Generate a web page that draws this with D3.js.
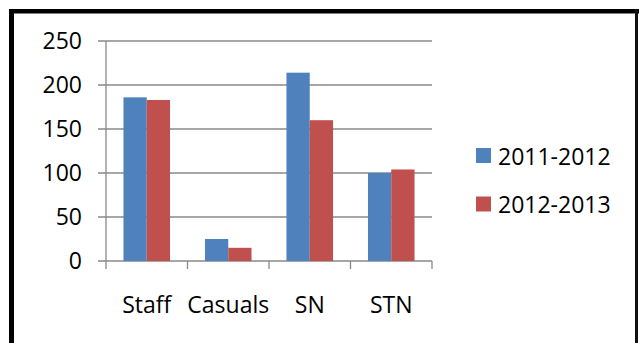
<!DOCTYPE html>
<html><head><meta charset="utf-8">
<script src="https://cdn.jsdelivr.net/npm/d3@7"></script>
<style>html,body{margin:0;padding:0;background:#fff;overflow:hidden}</style>
</head><body>
<svg id="c" width="639" height="343"></svg>
<script>
const categories = ["Staff", "Casuals", "SN", "STN"];
const seriesNames = ["2011-2012", "2012-2013"];
const values2011 = [186, 25, 214, 100];
const values2012 = [183, 15, 160, 104];
const yTicks = [0, 50, 100, 150, 200, 250];
const colors = ["#4F81BD", "#C0504D"];

const svg = d3.select("#c");
const font = "'Open Sans', sans-serif";
const fs = 23;

// frame
svg.append("rect").attr("x", 9).attr("y", 9).attr("width", 5).attr("height", 340).attr("fill", "#000");
svg.append("rect").attr("x", 9).attr("y", 9).attr("width", 630).attr("height", 4.5).attr("fill", "#000");
svg.append("rect").attr("x", 635).attr("y", 9).attr("width", 3).attr("height", 340).attr("fill", "#111");

const x0 = d3.scaleBand().domain(categories).range([106, 432]).padding(0);
const bw = x0.bandwidth();
const x1 = d3.scaleBand().domain(seriesNames).range([bw * 0.75 / 3.5, bw * 2.75 / 3.5]).padding(0);
const y = d3.scaleLinear().domain([0, 250]).range([261, 41]);

const grid = "#898989";
// gridlines
svg.append("g").selectAll("line").data(yTicks).join("line")
  .attr("x1", 98).attr("x2", 432)
  .attr("y1", d => y(d)).attr("y2", d => y(d))
  .attr("stroke", grid).attr("stroke-width", 1.3);

// y axis line
svg.append("line").attr("x1", 106).attr("x2", 106).attr("y1", y(250)).attr("y2", 261)
  .attr("stroke", grid).attr("stroke-width", 1.3);

// category ticks
const catEdges = categories.map(c => x0(c)).concat([x0(categories[categories.length-1]) + bw]);
svg.append("g").selectAll("line").data(catEdges).join("line")
  .attr("x1", d => d).attr("x2", d => d).attr("y1", 261).attr("y2", 269)
  .attr("stroke", grid).attr("stroke-width", 1.3);

// bars
const data = categories.map((c, i) => ({c, vals: [values2011[i], values2012[i]]}));
const g = svg.append("g").selectAll("g").data(data).join("g")
  .attr("transform", d => `translate(${x0(d.c)},0)`);
g.selectAll("rect").data(d => d.vals.map((v, j) => ({v, s: seriesNames[j], j}))).join("rect")
  .attr("x", d => x1(d.s)).attr("width", x1.bandwidth())
  .attr("y", d => y(d.v)).attr("height", d => 261 - y(d.v))
  .attr("fill", d => colors[d.j]);

// y labels
svg.append("g").selectAll("text").data(yTicks).join("text")
  .attr("x", 82).attr("y", d => y(d)).attr("dy", "0.36em")
  .attr("text-anchor", "end").attr("font-family", font).attr("font-size", fs)
  .attr("fill", "#000").text(d => d);

// x labels
svg.append("g").selectAll("text").data(categories).join("text")
  .attr("x", d => x0(d) + bw / 2).attr("y", 313)
  .attr("text-anchor", "middle").attr("font-family", font).attr("font-size", fs)
  .attr("fill", "#000").text(d => d);

// legend
const leg = svg.append("g").selectAll("g").data(seriesNames).join("g")
  .attr("transform", (d, i) => `translate(476,${148 + i * 48.5})`);
leg.append("rect").attr("width", 15).attr("height", 15).attr("fill", (d, i) => colors[i]);
leg.append("text").attr("x", 22).attr("y", 16.5).attr("font-family", font).attr("font-size", fs)
  .attr("fill", "#000").text(d => d);
</script>
</body></html>
